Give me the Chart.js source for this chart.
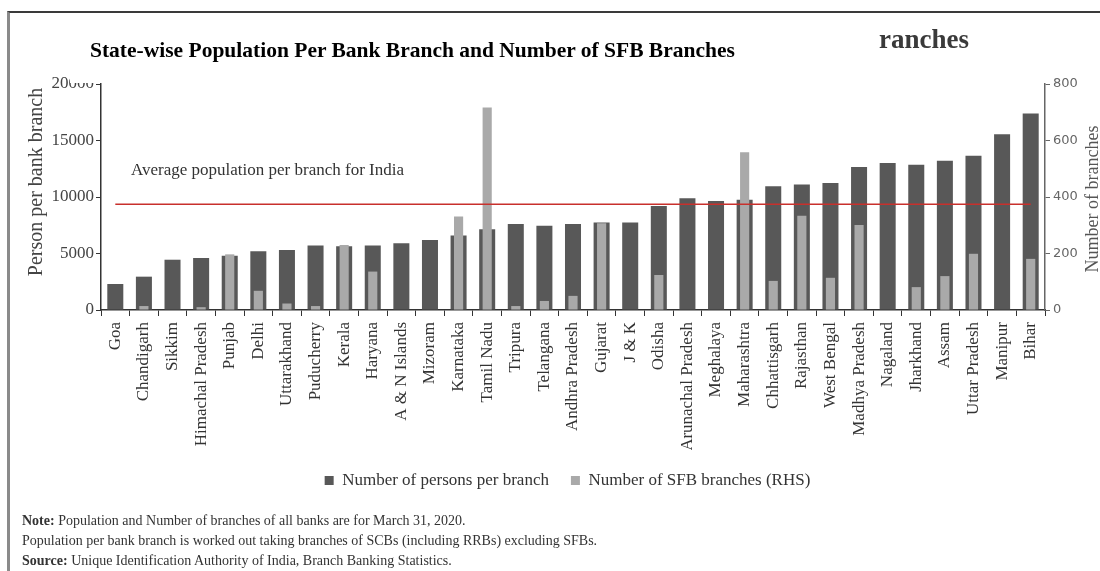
<!DOCTYPE html>
<html>
<head>
<meta charset="utf-8">
<script src="https://cdn.jsdelivr.net/npm/chart.js@4.4.1/dist/chart.umd.min.js"></script>
<style>
  body { margin: 0; background: #fff; overflow: hidden; }
  #wrap { position: relative; width: 1100px; height: 571px; overflow: hidden; }
  #chart { position: absolute; left: 0; top: 0; }
  #frame { position: absolute; left: 7px; top: 11px; width: 1200px; height: 700px; border-top: 2px solid #3a3a3a; border-left: 3px solid #8a8a8a; }
  #mask { position: absolute; left: 70px; top: 22px; width: 808px; height: 61px; background: #fff; }
  #title { position: absolute; left: 90px; top: 38px; font: bold 21.5px 'Liberation Serif', serif; color: #000; white-space: nowrap; }
  #ghost { position: absolute; left: 879px; top: 24px; font: bold 27px 'Liberation Serif', serif; color: #3a3a3a; }
  #notes { position: absolute; left: 22px; top: 511px; font: 14px 'Liberation Serif', serif; color: #333; line-height: 20px; }
</style>
</head>
<body>
<div id="wrap">
  <canvas id="chart" width="1110" height="571"></canvas>
  <div id="frame"></div>
  <div id="mask"></div>
  <div id="title">State-wise Population Per Bank Branch and Number of SFB Branches</div>
  <div id="ghost">ranches</div>
  <div id="notes">
    <div><b>Note:</b> Population and Number of branches of all banks are for March 31, 2020.</div>
    <div>Population per bank branch is worked out taking branches of SCBs (including RRBs) excluding SFBs.</div>
    <div><b>Source:</b> Unique Identification Authority of India, Branch Banking Statistics.</div>
  </div>
</div>
<script>
const states = ['Goa', 'Chandigarh', 'Sikkim', 'Himachal Pradesh', 'Punjab', 'Delhi', 'Uttarakhand',
  'Puducherry', 'Kerala', 'Haryana', 'A & N Islands', 'Mizoram', 'Karnataka', 'Tamil Nadu', 'Tripura',
  'Telangana', 'Andhra Pradesh', 'Gujarat', 'J & K', 'Odisha', 'Arunachal Pradesh', 'Meghalaya',
  'Maharashtra', 'Chhattisgarh', 'Rajasthan', 'West Bengal', 'Madhya Pradesh', 'Nagaland', 'Jharkhand',
  'Assam', 'Uttar Pradesh', 'Manipur', 'Bihar'];
const personsPerBranch = [2300, 2950, 4450, 4600, 4800, 5200, 5300, 5700, 5650, 5700, 5900, 6200, 6600, 7150, 7600,
  7450, 7600, 7750, 7750, 9200, 9900, 9650, 9750, 10950, 11100, 11250, 12650, 13000, 12850, 13200, 13650, 15550, 17400];
const sfbBranches = [0, 14, 0, 10, 197, 68, 23, 14, 230, 136, 0, 0, 331, 717, 14,
  32, 50, 307, 0, 124, 0, 0, 558, 103, 334, 114, 301, 0, 81, 120, 199, 0, 181];
const indiaAverage = 9350;
const leftTicks = [0, 20000, 5000];
const rightTicks = [0, 800, 200];

const serif = "'Liberation Serif', 'Times New Roman', serif";

// average label and the two axis titles (both read bottom to top)
const annotations = {
  id: 'annotations',
  afterDraw(chart) {
    const { ctx, chartArea, scales: { x, y } } = chart;
    ctx.save();
    ctx.fillStyle = '#333';
    ctx.textBaseline = 'middle';
    ctx.font = '17px ' + serif;
    ctx.fillText('Average population per branch for India', x.left + 30, y.getPixelForValue(indiaAverage) - 34);

    ctx.textAlign = 'center';
    ctx.fillStyle = '#444';
    ctx.font = '20px ' + serif;
    ctx.translate(37, 182);
    ctx.rotate(-Math.PI / 2);
    ctx.fillText('Person per bank branch', 0, 0);
    ctx.restore();

    ctx.save();
    ctx.fillStyle = '#555';
    ctx.textAlign = 'center';
    ctx.textBaseline = 'middle';
    ctx.font = '18px ' + serif;
    ctx.translate(chartArea.right + 48, 199);
    ctx.rotate(-Math.PI / 2);
    ctx.fillText('Number of branches', 0, 0);
    ctx.restore();
  }
};

new Chart(document.getElementById('chart'), {
  type: 'bar',
  data: {
    labels: states,
    datasets: [
      {
        type: 'line',
        label: 'India average',
        data: states.map(() => indiaAverage),
        borderColor: '#c8302c',
        borderWidth: 1.5,
        pointRadius: 0,
        yAxisID: 'y',
        order: 0,
      },
      {
        label: 'Number of SFB branches (RHS)',
        data: sfbBranches,
        backgroundColor: '#a9a9a9',
        yAxisID: 'y1',
        grouped: false,
        categoryPercentage: 1,
        barPercentage: 0.32,
        order: 1,
      },
      {
        label: 'Number of persons per branch',
        data: personsPerBranch,
        backgroundColor: '#585858',
        yAxisID: 'y',
        grouped: false,
        categoryPercentage: 1,
        barPercentage: 0.56,
        order: 2,
      },
    ],
  },
  options: {
    responsive: false,
    animation: false,
    layout: { padding: { top: 84, left: 25, right: 0, bottom: 72 } },
    plugins: {
      tooltip: { enabled: false },
      legend: {
        position: 'bottom',
        labels: {
          boxWidth: 9,
          boxHeight: 9,
          padding: 22,
          color: '#333',
          font: { family: serif, size: 17 },
          filter: item => item.datasetIndex !== 0,
          sort: (a, b) => b.datasetIndex - a.datasetIndex,
        },
      },
    },
    scales: {
      x: {
        grid: { drawOnChartArea: false, tickLength: 6, color: '#333', offset: true },
        border: { color: '#333', width: 1.5 },
        ticks: {
          autoSkip: false, minRotation: 90, maxRotation: 90, padding: 6,
          color: '#333', font: { family: serif, size: 17 },
        },
        afterFit: s => { s.height = 140; },
      },
      y: {
        position: 'left',
        min: leftTicks[0], max: leftTicks[1],
        ticks: { stepSize: leftTicks[2], padding: 2, color: '#444', font: { family: serif, size: 17 }, callback: v => String(v) },
        grid: { drawOnChartArea: false, tickLength: 5, color: '#333' },
        border: { color: '#333', width: 1.5 },
        afterFit: s => { s.width = 76; },
      },
      y1: {
        position: 'right',
        min: rightTicks[0], max: rightTicks[1],
        ticks: { stepSize: rightTicks[2], padding: 3, color: '#666', font: { family: 'DejaVu Sans', size: 13 }, callback: v => String(v) },
        grid: { drawOnChartArea: false, tickLength: 5, color: '#666' },
        border: { color: '#666', width: 1.5 },
        afterFit: s => { s.width = 65; },
      },
    },
  },
  plugins: [annotations],
});
</script>
</body>
</html>
